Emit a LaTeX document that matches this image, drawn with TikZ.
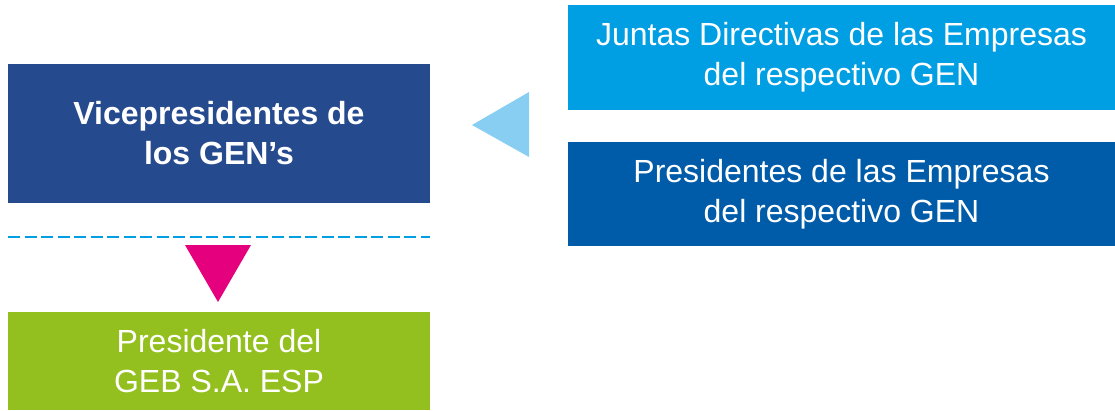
\documentclass[tikz,border=0pt]{standalone}
\usepackage{fontspec}
\setmainfont{Liberation Sans}
\definecolor{vblue}{HTML}{264A8E}
\definecolor{cyanb}{HTML}{009FE3}
\definecolor{midb}{HTML}{005CA9}
\definecolor{greenb}{HTML}{93C01F}
\definecolor{lightb}{HTML}{87CEF2}
\definecolor{magen}{HTML}{E5007D}
\tikzset{
  box/.style={rectangle, inner sep=0pt, text=white, align=center,
    font=\fontsize{32}{40}\selectfont},
}
\begin{document}
\begin{tikzpicture}[x=1pt,y=-1pt]
\useasboundingbox (0,0) rectangle (1115,410);
\node[box, fill=vblue, minimum width=422pt, minimum height=139pt,
  font=\fontsize{32}{40}\selectfont\bfseries] (vice) at (219,133.5)
  {Vicepresidentes de\\los GEN’s};
\node[box, fill=cyanb, minimum width=547pt, minimum height=105pt] (juntas) at (841.5,57.5)
  {Juntas Directivas de las Empresas\\del respectivo GEN};
\node[box, fill=midb, minimum width=547pt, minimum height=104pt] (pres) at (841.5,194)
  {Presidentes de las Empresas\\del respectivo GEN};
\node[box, fill=greenb, minimum width=422pt, minimum height=98pt] (geb) at (219,361)
  {Presidente del\\GEB S.A. ESP};
\coordinate (dl) at (8,237);
\coordinate (dr) at (430,237);
\draw[cyanb, line width=2pt, dash pattern=on 12pt off 4.5pt] (dl) -- (dr);
\fill[lightb] (472,125) -- (529,92) -- (529,157) -- cycle;
\fill[magen] (185,245) -- (251,245) -- (218,302) -- cycle;
\end{tikzpicture}
\end{document}
